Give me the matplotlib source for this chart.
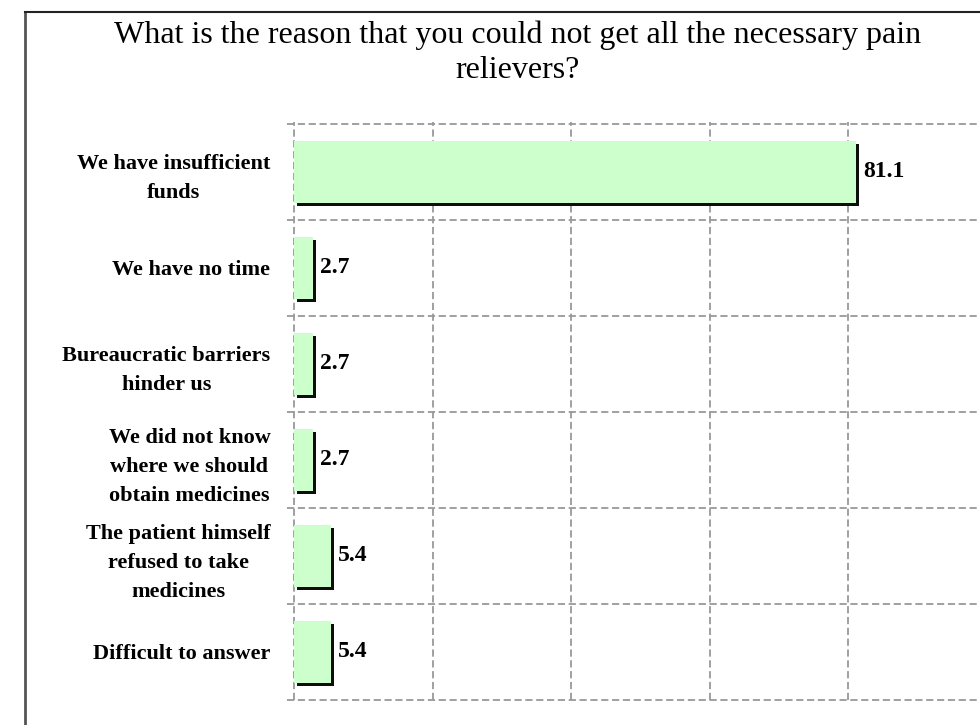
import matplotlib
matplotlib.use('Agg')
import matplotlib.pyplot as plt
import matplotlib.patheffects as pe
from matplotlib.lines import Line2D

reasons = [
    "We have insufficient\nfunds",
    "We have no time",
    "Bureaucratic barriers\nhinder us",
    "We did not know\nwhere we should\nobtain medicines",
    "The patient himself\nrefused to take\nmedicines",
    "Difficult to answer",
]
shares = [81.1, 2.7, 2.7, 2.7, 5.4, 5.4]
x_ticks = [0, 20, 40, 60, 80, 100]

plt.rcParams['font.family'] = ['Liberation Serif', 'DejaVu Serif']

fig = plt.figure(figsize=(9.8, 7.25), dpi=100)
ax = fig.add_axes([0.3, 0.0345, 0.707, 0.7945])

pos = list(range(len(reasons)))
bars = ax.barh(pos, shares, height=0.65, color='#ccffcc', edgecolor='none', zorder=3)
for b in bars:
    b.set_path_effects([pe.SimplePatchShadow(offset=(2.2, -2.2), shadow_rgbFace='black', alpha=0.95),
                        pe.Normal()])
for p, v in zip(pos, shares):
    ax.annotate(f"{v:.1f}", (v, p), xytext=(5, 0), textcoords='offset points',
                va='center', ha='left', fontsize=17, fontweight='bold', zorder=4)

ax.set_xlim(0, 100)
ax.set_ylim(len(reasons) - 0.5, -0.5)
ax.set_yticks(pos)
ax.set_yticklabels(reasons, fontsize=16, fontweight='bold', multialignment='center',
                   linespacing=1.6)
ax.set_xticks(x_ticks)
ax.set_xticklabels([])
ax.tick_params(axis='both', length=0, pad=17)

grid = dict(color='#999999', lw=1.3, ls=(0, (4, 2)), zorder=1)
for x in x_ticks:
    ax.axvline(x, ymin=0, ymax=1.003, clip_on=False, **grid)
for i in range(len(reasons) + 1):
    ax.axhline(i - 0.5, xmin=-0.01, xmax=1, clip_on=False, **grid)
for s in ax.spines.values():
    s.set_visible(False)

fig.text(0.528, 0.927, "What is the reason that you could not get all the necessary pain\nrelievers?",
         ha='center', va='center', fontsize=23, linespacing=1.25)

fig.add_artist(Line2D([25 / 980, 25 / 980], [0, 1 - 12 / 725], color='#555555', lw=2))
fig.add_artist(Line2D([25 / 980, 1], [1 - 12 / 725, 1 - 12 / 725], color='#222222', lw=1.5))

fig.savefig('out.png', dpi=100)
